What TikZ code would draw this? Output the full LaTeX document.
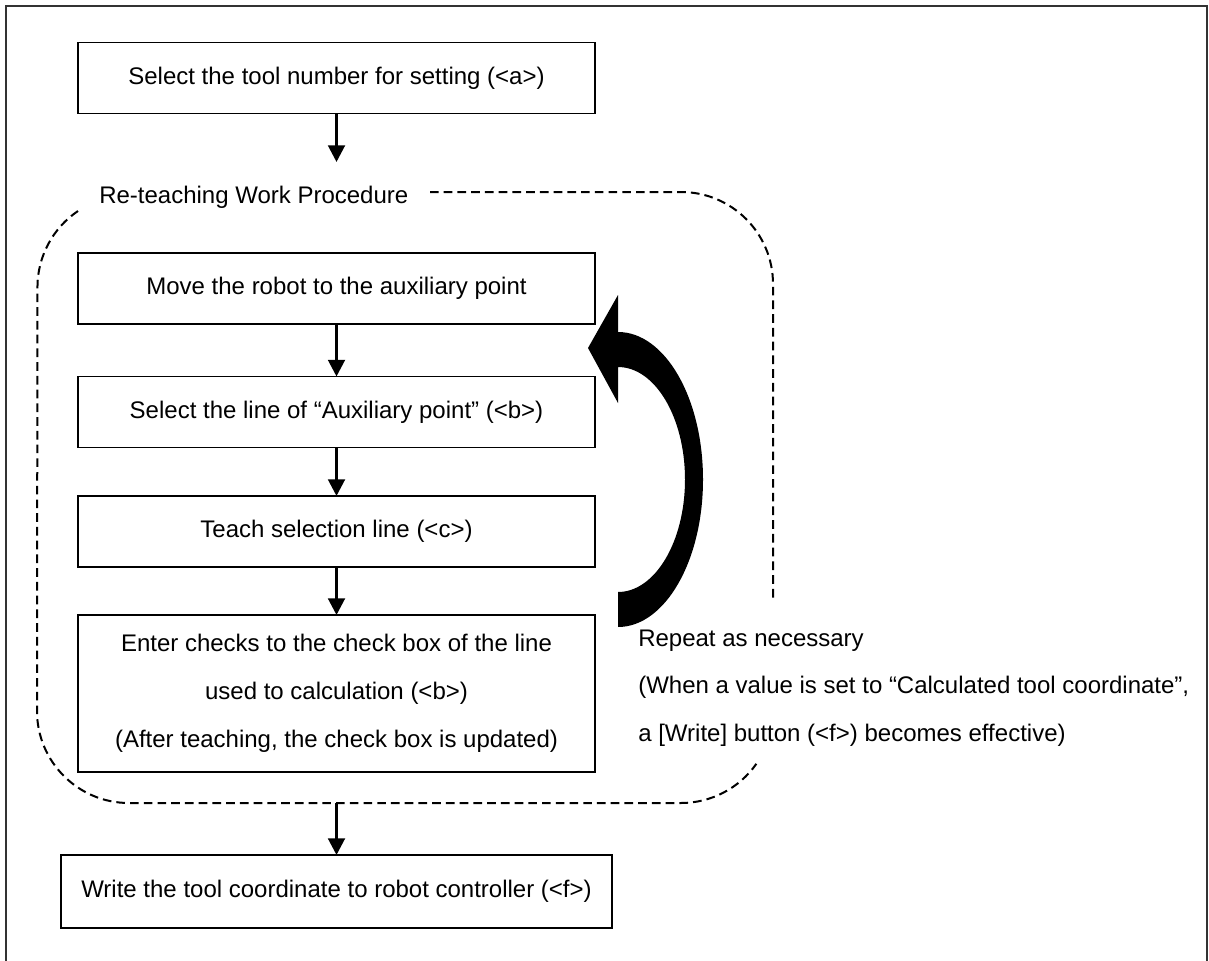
\documentclass[tikz,border=0pt]{standalone}
\usepackage{fontspec}
\setmainfont{Liberation Sans}
\usepackage{tikz}
\usetikzlibrary{positioning, arrows.meta}

\begin{document}
\begin{tikzpicture}[x=0.75pt, y=-0.75pt,
  every node/.style={font=\fontsize{18pt}{36pt}\selectfont},
  stepbox/.style={draw, line width=1.4pt, inner sep=0pt, outer sep=0pt,
    minimum width=387.75pt, minimum height=53.25pt, align=center},
  flowarrow/.style={line width=2.2pt, -{Triangle[length=12.5pt, width=12.5pt]}},
  loopline/.style={line width=1.5pt, dash pattern=on 6.5pt off 3.8pt},
  frameline/.style={line width=0.8pt, black!80}]
\useasboundingbox (0,0) rectangle (1209,960);
\draw[frameline] (6,962) -- (6,6) -- (1207,6) -- (1207,962);

% steps
\node[stepbox] (tool) at (336.5,78) {Select the tool number for setting (<a>)};
\node[stepbox] (move) at (336.5,288.5) {Move the robot to the auxiliary point};
\node[stepbox] (auxline) at (336.5,412) {Select the line of “Auxiliary point” (<b>)};
\node[stepbox] (teach) at (336.5,531.5) {Teach selection line (<c>)};
\node[stepbox, minimum height=117.75pt] (checks) at (336.5,693.5)
  {Enter checks to the check box of the line\\used to calculation (<b>)\\(After teaching, the check box is updated)};
\node[stepbox, minimum width=413.25pt, minimum height=54.75pt] (write) at (336.5,891.5)
  {Write the tool coordinate to robot controller (<f>)};

% re-teaching group
\node[anchor=west, inner sep=0pt] (grouplabel) at (99,197) {Re-teaching Work Procedure};
\coordinate (groupin) at (336.5,162);
\coordinate (groupout) at (336.5,803);
\draw[loopline] (430,192) -- (681,192) arc[start angle=-90, end angle=0, radius=92] -- (773,602);
\draw[loopline] (78,211) arc[start angle=236, end angle=180, radius=92] -- (37,711)
  arc[start angle=180, end angle=90, radius=92] -- (681,803) arc[start angle=90, end angle=35, radius=92];

\draw[flowarrow] (tool) -- (groupin);
\draw[flowarrow] (move) -- (auxline);
\draw[flowarrow] (auxline) -- (teach);
\draw[flowarrow] (teach) -- (checks);
\draw[flowarrow] (groupout) -- (write);

% repeat arrow
\fill (618,627) arc[start angle=90, end angle=-90, x radius=85, y radius=147.5]
  -- (618,295) -- (588,348) -- (618,403) -- (618,367)
  arc[start angle=-90, end angle=90, x radius=67, y radius=112.5] -- cycle;
\node[anchor=west, inner sep=0pt, align=left, font=\fontsize{18pt}{35.6pt}\selectfont] (repeatnote) at (638,688)
  {Repeat as necessary\\(When a value is set to “Calculated tool coordinate”,\\a [Write] button (<f>) becomes effective)};
\end{tikzpicture}
\end{document}
